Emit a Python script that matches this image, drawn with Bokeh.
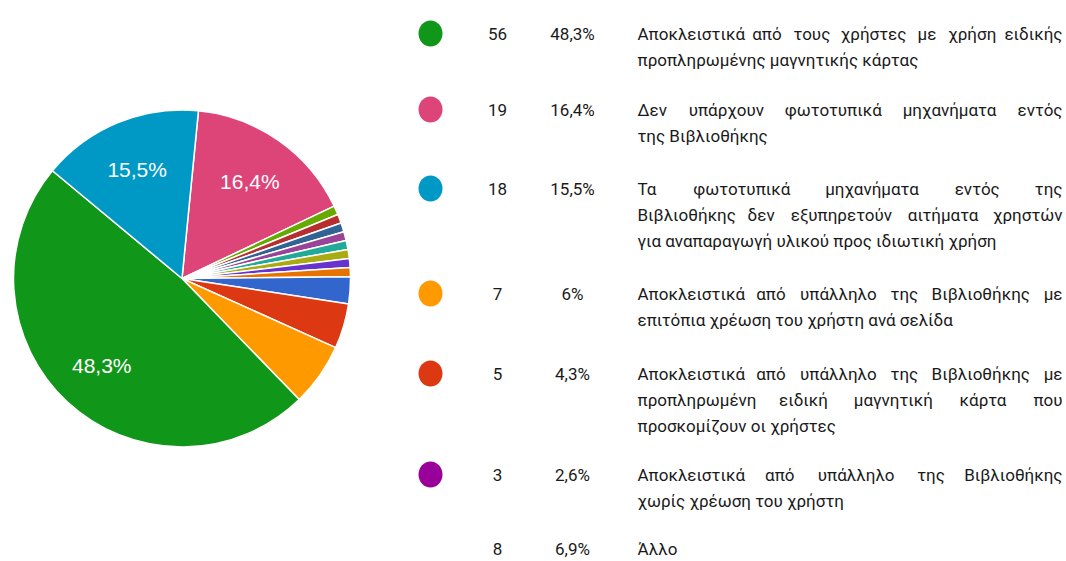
import math
import unicodedata
from bokeh.plotting import figure
from bokeh.models import Range1d, ColumnDataSource
from bokeh.core.properties import value
from bokeh.embed import file_html
from bokeh.resources import INLINE

# ---------------- data ----------------
# pie slices in drawing order (clockwise from just right of 12 o'clock)
pie_values = [19, 1, 1, 1, 1, 1, 1, 1, 1, 3, 5, 7, 56, 18]
pie_colors = ["#dd4477", "#66aa00", "#b82e2e", "#316395", "#994499", "#22aa99",
              "#aaaa11", "#6633cc", "#e67300", "#3366cc", "#dc3912", "#ff9900",
              "#109618", "#0099c6"]
pie_labels = ["16,4%", "", "", "", "", "", "", "", "", "", "", "", "48,3%", "15,5%"]

# legend table
legend_counts = ["56", "19", "18", "7", "5", "3", "8"]
legend_pcts = ["48,3%", "16,4%", "15,5%", "6%", "4,3%", "2,6%", "6,9%"]
legend_colors = ["#109618", "#dd4477", "#0099c6", "#ff9900", "#dc3912", "#990099", None]
legend_texts = [
    ["Αποκλειστικά από τους χρήστες με χρήση ειδικής", "προπληρωμένης μαγνητικής κάρτας"],
    ["Δεν υπάρχουν φωτοτυπικά μηχανήματα εντός", "της Βιβλιοθήκης"],
    ["Τα φωτοτυπικά μηχανήματα εντός της",
     "Βιβλιοθήκης δεν εξυπηρετούν αιτήματα χρηστών",
     "για αναπαραγωγή υλικού προς ιδιωτική χρήση"],
    ["Αποκλειστικά από υπάλληλο της Βιβλιοθήκης με", "επιτόπια χρέωση του χρήστη ανά σελίδα"],
    ["Αποκλειστικά από υπάλληλο της Βιβλιοθήκης με",
     "προπληρωμένη ειδική μαγνητική κάρτα που",
     "προσκομίζουν οι χρήστες"],
    ["Αποκλειστικά από υπάλληλο της Βιβλιοθήκης", "χωρίς χρέωση του χρήστη"],
    ["Άλλο"],
]

# ---------------- layout ----------------
W, H = 1066, 561
def Y(yscreen):
    return H - yscreen

p = figure(width=W, height=H, x_range=Range1d(0, W), y_range=Range1d(0, H),
           output_backend="svg", toolbar_location=None, min_border=0,
           x_axis_location=None, y_axis_location=None)
p.grid.visible = False
p.outline_line_color = None
p.background_fill_color = "white"
p.border_fill_color = "white"

# pie
cx, cy, R = 181.5, Y(278), 168.5
offset = 5.6  # degrees clockwise from top
total = float(sum(pie_values))
starts, ends, lx, ly = [], [], [], []
acc = 0.0
for v in pie_values:
    t1 = offset + acc / total * 360.0
    acc += v
    t2 = offset + acc / total * 360.0
    starts.append(math.radians(90 - t2))
    ends.append(math.radians(90 - t1))
    tm = math.radians((t1 + t2) / 2)
    lx.append(cx + 118 * math.sin(tm))
    ly.append(cy + 118 * math.cos(tm))

src = ColumnDataSource(dict(x=[cx] * len(pie_values), y=[cy] * len(pie_values),
                            s=starts, e=ends, c=pie_colors, lx=lx, ly=ly, lab=pie_labels))
p.wedge(x="x", y="y", radius=R, start_angle="s", end_angle="e", fill_color="c",
        line_color="white", line_width=1.5, source=src)
p.text(x="lx", y="ly", text="lab", source=src, text_color="white",
       text_font=value("Liberation Sans"), text_font_size="21px",
       text_align="center", text_baseline="middle")

# legend
row_y = [33, 109, 188, 293, 373, 474, 548]
line_h = 26
FONT = value("Roboto")
FS_PX = 17
FS = f"{FS_PX}px"
TXT = "#1a1a1a"
L, Rt = 637, 1062

# approximate glyph advance widths (em) used only to justify words
EM = {"α": .56, "β": .55, "γ": .49, "δ": .55, "ε": .52, "ζ": .46, "η": .55, "θ": .55,
      "ι": .29, "κ": .51, "λ": .49, "μ": .56, "ν": .49, "ξ": .46, "ο": .57, "π": .55,
      "ρ": .56, "σ": .56, "ς": .47, "τ": .50, "υ": .53, "φ": .70, "χ": .49, "ψ": .70,
      "ω": .78, "Α": .65, "Β": .62, "Δ": .67, "Τ": .61}

def wwidth(word):
    tot = 0.0
    for ch in word:
        base = unicodedata.normalize("NFD", ch)[0]
        tot += EM.get(base, .55)
    return tot * FS_PX

cxs, cys, ccs = [], [], []
for i, c in enumerate(legend_colors):
    if c:
        cxs.append(430); cys.append(Y(row_y[i])); ccs.append(c)
p.ellipse(x=cxs, y=cys, width=24, height=26, fill_color=ccs, line_color=None)

p.text(x=[497] * len(legend_counts), y=[Y(v) for v in row_y], text=legend_counts,
       text_font=FONT, text_font_size=FS, text_color=TXT,
       text_align="center", text_baseline="middle")
p.text(x=[572] * len(legend_pcts), y=[Y(v) for v in row_y], text=legend_pcts,
       text_font=FONT, text_font_size=FS, text_color=TXT,
       text_align="center", text_baseline="middle")

wx, wy, wt, wa = [], [], [], []
for i, lines in enumerate(legend_texts):
    for j, line in enumerate(lines):
        yy = Y(row_y[i] + j * line_h)
        last = (j == len(lines) - 1)
        if last:
            wx.append(L); wy.append(yy); wt.append(line); wa.append("left")
            continue
        words = line.split()
        widths = [wwidth(w) for w in words]
        gap = (Rt - L - sum(widths)) / (len(words) - 1)
        x = L
        for k, w in enumerate(words):
            if k == 0:
                wx.append(L); wa.append("left")
            elif k == len(words) - 1:
                wx.append(Rt); wa.append("right")
            else:
                wx.append(x + widths[k] / 2); wa.append("center")
            wy.append(yy); wt.append(w)
            x += widths[k] + gap

tsrc = ColumnDataSource(dict(x=wx, y=wy, t=wt, a=wa))
p.text(x="x", y="y", text="t", text_align="a", source=tsrc,
       text_font=FONT, text_font_size=FS, text_color=TXT, text_baseline="middle")

open("out.html", "w").write(file_html(p, INLINE))
